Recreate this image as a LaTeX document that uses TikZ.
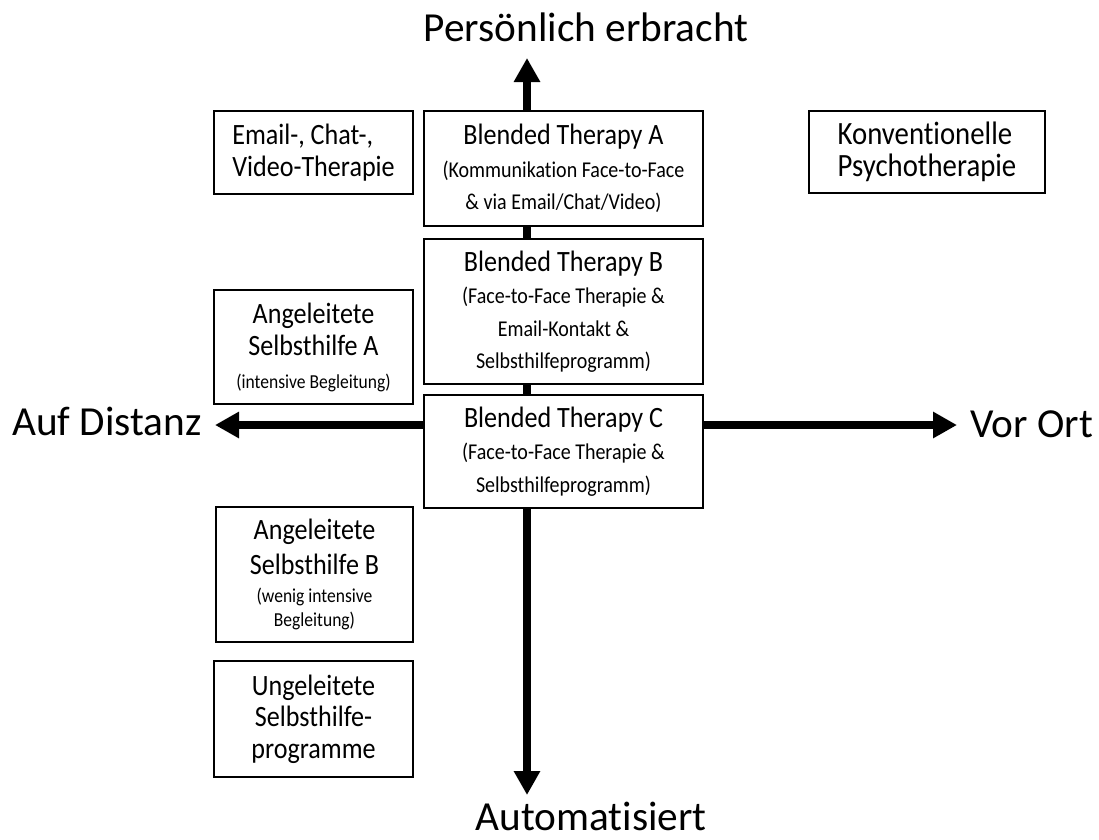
\documentclass[tikz,border=0pt]{standalone}
\usepackage{fontspec}
\setmainfont{Carlito}[FakeStretch=0.885, Ligatures={CommonOff}]
\newfontfamily\axisfont{Carlito}[Ligatures={CommonOff}]
\usetikzlibrary{arrows.meta}
\newcommand\mainln[1]{{\fontsize{29.5}{31}\selectfont #1}}
\tikzset{
  box/.style={draw, line width=1.5pt, fill=white, inner sep=0pt, align=center},
  subtxt/.style={font=\fontsize{22.6}{32.5}\selectfont},
  smalltxt/.style={font=\fontsize{19.8}{32.5}\selectfont},
  bigtxt/.style={font=\fontsize{29.5}{31.5}\selectfont},
  axisarrow/.style={line width=8pt, -{Triangle[width=25pt,length=24pt]}},
  axisline/.style={line width=8pt},
  axislabel/.style={font=\axisfont\fontsize{41.3}{50}\selectfont, inner sep=0pt, anchor=base}
}
\begin{document}
\begin{tikzpicture}[x=1pt,y=-1pt]
\useasboundingbox (0,0) rectangle (1099,839);
% axis end points
\coordinate (top) at (527,58);
\coordinate (bot) at (527,795);
\coordinate (lft) at (215,425);
\coordinate (rgt) at (957,425);
% central boxes
\node[box, subtxt, minimum width=279pt, minimum height=115pt] (btA) at (563.5,168.5)
  {\mainln{Blended Therapy A}\\(Kommunikation Face-to-Face\\\& via Email/Chat/Video)};
\node[box, subtxt, minimum width=279pt, minimum height=145pt] (btB) at (563.5,311.5)
  {\mainln{Blended Therapy B}\\(Face-to-Face Therapie \&\\Email-Kontakt \&\\Selbsthilfeprogramm)};
\node[box, subtxt, minimum width=279pt, minimum height=113pt] (btC) at (563.5,451.5)
  {\mainln{Blended Therapy C}\\(Face-to-Face Therapie \&\\Selbsthilfeprogramm)};
% axes
\draw[axisarrow] (btA.north -| top) -- (top);
\draw[axisline] (btA.south -| top) -- (btB.north -| top);
\draw[axisline] (btB.south -| top) -- (btC.north -| top);
\draw[axisarrow] (btC.south -| bot) -- (bot);
\draw[axisarrow] (btC.west |- lft) -- (lft);
\draw[axisarrow] (btC.east |- rgt) -- (rgt);
% redraw central boxes on top of the axis
\node[box, subtxt, minimum width=279pt, minimum height=115pt] at (btA)
  {\mainln{Blended Therapy A}\\(Kommunikation Face-to-Face\\\& via Email/Chat/Video)};
\node[box, subtxt, minimum width=279pt, minimum height=145pt] at (btB)
  {\mainln{Blended Therapy B}\\(Face-to-Face Therapie \&\\Email-Kontakt \&\\Selbsthilfeprogramm)};
\node[box, subtxt, minimum width=279pt, minimum height=113pt] at (btC)
  {\mainln{Blended Therapy C}\\(Face-to-Face Therapie \&\\Selbsthilfeprogramm)};
% side boxes
\node[box, bigtxt, align=left, minimum width=199pt, minimum height=83pt] (email) at (313.5,152.5)
  {Email-, Chat-,\\Video-Therapie};
\node[box, font=\fontsize{32.5}{32}\selectfont, align=left, minimum width=236pt, minimum height=82pt] (konv) at (927,152)
  {Konventionelle\\Psychotherapie};
\node[box, smalltxt, minimum width=199pt, minimum height=114pt] (angA) at (313.5,347)
  {\mainln{Angeleitete}\\\mainln{Selbsthilfe A}\\(intensive Begleitung)};
\node[box, font=\fontsize{19.8}{24}\selectfont, minimum width=197pt, minimum height=135pt] (angB) at (314.5,574.5)
  {\mainln{Angeleitete}\\[9pt]\mainln{Selbsthilfe B}\\[4pt](wenig intensive\\Begleitung)};
\node[box, bigtxt, minimum width=199pt, minimum height=116pt] (unge) at (313.5,719)
  {Ungeleitete\\Selbsthilfe-\\programme};
% axis labels
\node[axislabel] (lblTop) at (586,41) {Persönlich erbracht};
\node[axislabel] (lblBot) at (591,830) {Automatisiert};
\node[axislabel] (lblLft) at (107,435) {Auf Distanz};
\node[axislabel, anchor=base west] (lblRgt) at (970,437) {Vor Ort};
\end{tikzpicture}
\end{document}
